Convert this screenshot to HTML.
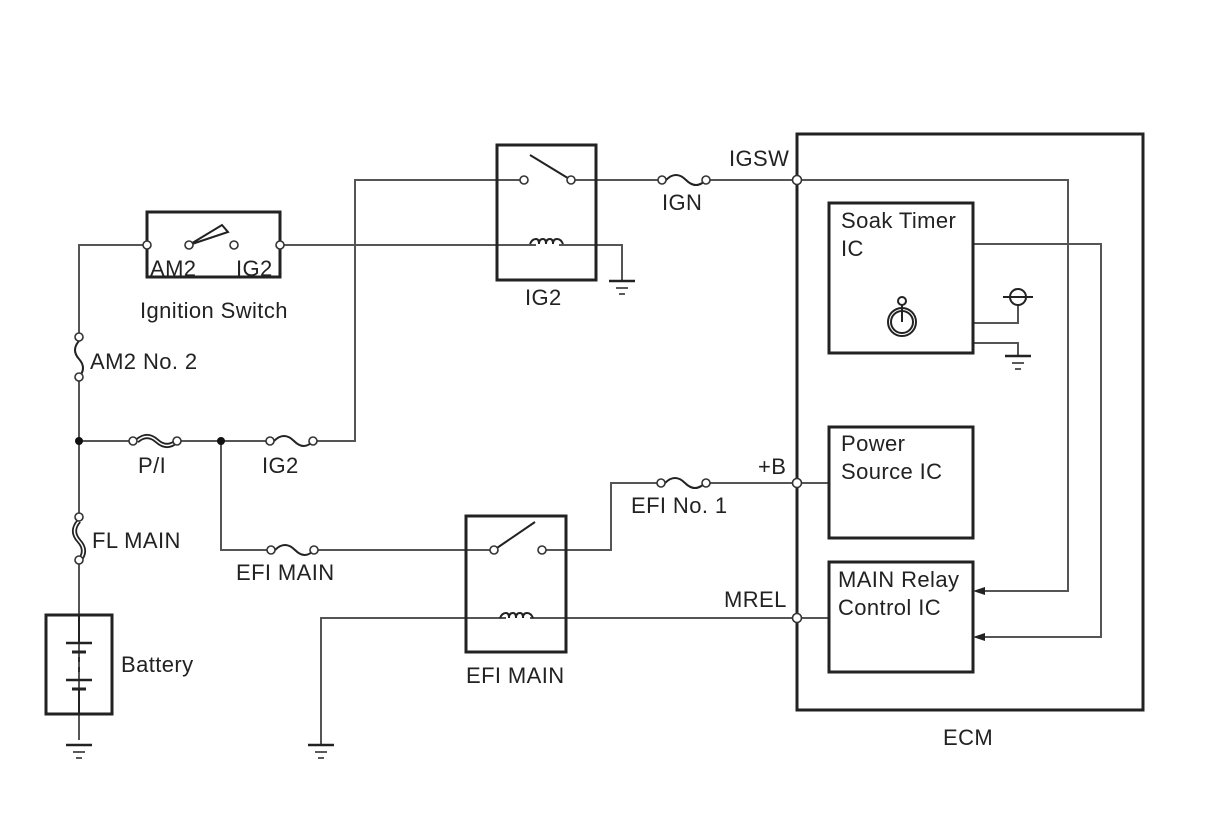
<!DOCTYPE html>
<html><head><meta charset="utf-8"><style>
html,body{margin:0;padding:0;background:#fff;}
svg{display:block;}
text{font-family:"Liberation Sans",Arial,sans-serif;font-size:22px;letter-spacing:0.4px;fill:#222;}
</style></head><body>
<svg width="1210" height="814" viewBox="0 0 1210 814" xmlns="http://www.w3.org/2000/svg">
<g fill="none" stroke="#555" stroke-width="2">
<path d="M147 245 H79 V333"/>
<path d="M79 381 V513"/>
<path d="M79 564 V740"/>
<path d="M79 441 H129"/><path d="M181 441 H266"/><path d="M317 441 H355 V180 H520"/>
<path d="M284 245 H536"/><path d="M559 245 H622 V280"/>
<path d="M575 180 H658"/><path d="M710 180 H793"/>
<path d="M801 180 H1068 V591 H985"/>
<path d="M973 244 H1101 V637 H985"/>
<path d="M973 323 H1018 V305"/>
<path d="M973 343 H1018 V355"/>
<path d="M221 441 V550 H267"/><path d="M318 550 H490"/>
<path d="M546 550 H611 V483 H657"/><path d="M710 483 H793"/><path d="M801 483 H829"/>
<path d="M321 745 V618 H506"/><path d="M530 618 H793"/><path d="M801 618 H829"/>
</g>
<g fill="none" stroke="#222" stroke-width="3">
<rect x="147" y="212" width="133" height="65"/>
<rect x="497" y="145" width="99" height="135"/>
<rect x="466" y="516" width="100" height="136"/>
<rect x="46" y="615" width="66" height="99"/>
<rect x="797" y="134" width="346" height="576"/>
<rect x="829" y="203" width="144" height="150"/>
<rect x="829" y="427" width="144" height="111"/>
<rect x="829" y="562" width="144" height="110"/>
</g>
<polygon points="973,591 985,587 985,595" fill="#222"/>
<polygon points="973,637 985,633 985,641" fill="#222"/>
<circle cx="79" cy="441" r="4" fill="#111"/><circle cx="221" cy="441" r="4" fill="#111"/>
<g stroke="#222" stroke-width="2" fill="none">
<path d="M189 245 L222 225 L228 232 Z" fill="#fff"/>
<line x1="530" y1="155" x2="571" y2="180"/>
<line x1="494" y1="550" x2="535" y2="522"/>
<path d="M530 244 q2-5 6-5 q3 0 3 5 q0-5 4-5 q3 0 3 5 q0-5 4-5 q3 0 3 5 q0-5 4-5 q4 0 6 5"/>
<path d="M500 618 q2-5 6-5 q3 0 3 5 q0-5 4-5 q3 0 3 5 q0-5 4-5 q3 0 3 5 q0-5 4-5 q4 0 6 5"/>
<path d="M666 180 q10-10 20 0 t20 0"/>
<path d="M665 483 q10-10 20 0 t20 0"/>
<path d="M274 441 q10-10 20 0 t19 0"/>
<path d="M275 550 q10-10 20 0 t19 0"/>
<path d="M79 341 q-8 9 0 18 t0 18"/>
<path d="M137 441 q10-9 20 0 t20 0" stroke-width="5"/>
<path d="M137 441 q10-9 20 0 t20 0" stroke="#fff" stroke-width="1.5"/>
<path d="M79 521 q-9 10 0 20 t0 20" stroke-width="5"/>
<path d="M79 521 q-9 10 0 20 t0 20" stroke="#fff" stroke-width="1.5"/>
<circle cx="902" cy="322" r="14"/><circle cx="902" cy="322" r="11"/>
<circle cx="902" cy="301" r="4"/><line x1="902" y1="305" x2="902" y2="322"/>
<circle cx="1018" cy="297" r="8"/><line x1="1003" y1="297" x2="1033" y2="297"/>
</g>
<g fill="#fff" stroke="#333" stroke-width="1.6">
<circle cx="147" cy="245" r="4"/><circle cx="280" cy="245" r="4"/><circle cx="189" cy="245" r="4"/><circle cx="234" cy="245" r="4"/>
<circle cx="524" cy="180" r="4"/><circle cx="571" cy="180" r="4"/>
<circle cx="494" cy="550" r="4"/><circle cx="542" cy="550" r="4"/>
<circle cx="662" cy="180" r="4"/><circle cx="706" cy="180" r="4"/>
<circle cx="661" cy="483" r="4"/><circle cx="706" cy="483" r="4"/>
<circle cx="270" cy="441" r="4"/><circle cx="313" cy="441" r="4"/>
<circle cx="271" cy="550" r="4"/><circle cx="314" cy="550" r="4"/>
<circle cx="133" cy="441" r="4"/><circle cx="177" cy="441" r="4"/>
<circle cx="79" cy="337" r="4"/><circle cx="79" cy="377" r="4"/>
<circle cx="79" cy="517" r="4"/><circle cx="79" cy="560" r="4"/>
<circle cx="797" cy="180" r="4.5"/><circle cx="797" cy="483" r="4.5"/><circle cx="797" cy="618" r="4.5"/>
</g>
<g stroke="#222" stroke-width="2.5">
<line x1="66" y1="745" x2="92" y2="745"/><line x1="73" y1="752" x2="85" y2="752" stroke-width="1.5"/><line x1="76" y1="758" x2="82" y2="758" stroke-width="1.5"/>
<line x1="308" y1="745" x2="334" y2="745"/><line x1="315" y1="752" x2="327" y2="752" stroke-width="1.5"/><line x1="318" y1="758" x2="324" y2="758" stroke-width="1.5"/>
<line x1="609" y1="281" x2="635" y2="281"/><line x1="616" y1="288" x2="628" y2="288" stroke-width="1.5"/><line x1="619" y1="294" x2="625" y2="294" stroke-width="1.5"/>
<line x1="1005" y1="356" x2="1031" y2="356"/><line x1="1012" y1="363" x2="1024" y2="363" stroke-width="1.5"/><line x1="1015" y1="369" x2="1021" y2="369" stroke-width="1.5"/>
<line x1="79" y1="615" x2="79" y2="643" stroke-width="2"/>
<line x1="66" y1="643" x2="92" y2="643"/><line x1="72" y1="652" x2="86" y2="652" stroke-width="3"/>
<line x1="79" y1="657" x2="79" y2="662" stroke-width="1.5"/><line x1="79" y1="667" x2="79" y2="672" stroke-width="1.5"/>
<line x1="66" y1="680" x2="92" y2="680"/><line x1="72" y1="689" x2="86" y2="689" stroke-width="3"/>
<line x1="79" y1="689" x2="79" y2="714" stroke-width="2"/>
</g>
<text x="150" y="276">AM2</text><text x="236" y="276">IG2</text>
<text x="140" y="318">Ignition Switch</text>
<text x="90" y="369">AM2 No. 2</text>
<text x="138" y="473">P/I</text>
<text x="262" y="473">IG2</text>
<text x="92" y="548">FL MAIN</text>
<text x="121" y="672">Battery</text>
<text x="236" y="580">EFI MAIN</text>
<text x="466" y="683">EFI MAIN</text>
<text x="525" y="305">IG2</text>
<text x="662" y="210">IGN</text>
<text x="729" y="166">IGSW</text>
<text x="631" y="513">EFI No. 1</text>
<text x="758" y="474">+B</text>
<text x="724" y="607">MREL</text>
<text x="841" y="228">Soak Timer</text>
<text x="841" y="256">IC</text>
<text x="841" y="451">Power</text>
<text x="841" y="479">Source IC</text>
<text x="838" y="587">MAIN Relay</text>
<text x="838" y="615">Control IC</text>
<text x="943" y="745">ECM</text>
</svg>
</body></html>
